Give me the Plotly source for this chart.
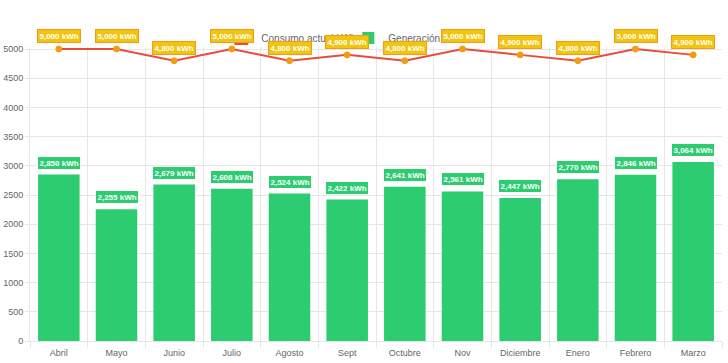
import plotly.graph_objects as go

months = ["Abril", "Mayo", "Junio", "Julio", "Agosto", "Sept", "Octubre",
          "Nov", "Diciembre", "Enero", "Febrero", "Marzo"]
consumo = [5000, 5000, 4800, 5000, 4800, 4900, 4800, 5000, 4900, 4800, 5000, 4900]
generacion = [2850, 2255, 2679, 2608, 2524, 2422, 2641, 2561, 2447, 2770, 2846, 3064]
y_ticks = [0, 500, 1000, 1500, 2000, 2500, 3000, 3500, 4000, 4500, 5000]

RED = "#e74c3c"
ORANGE = "#f39c12"
YELLOW = "#f1c40f"
GREEN = "#2ecc71"
GRID = "#e6e6e6"
FONT = "Liberation Sans, Arial, sans-serif"

fig = go.Figure()
# legend-only entry styled like a Chart.js legend box
fig.add_trace(go.Bar(
    x=[months[0]], y=[None], name="Consumo actual kWh",
    marker=dict(color=ORANGE, line=dict(color=RED, width=2)),
    hoverinfo="skip",
))
fig.add_trace(go.Bar(
    x=months, y=generacion, name="Generación de energía kWh", width=0.72,
    marker=dict(color=GREEN, line=dict(width=0)),
))
fig.add_trace(go.Scatter(
    x=months, y=consumo, name="Consumo actual kWh", mode="lines+markers",
    line=dict(color=RED, width=2),
    marker=dict(color=ORANGE, size=6, line=dict(color=ORANGE, width=1)),
    cliponaxis=False, showlegend=False,
))

annotations = []
for m, v in zip(months, generacion):
    annotations.append(dict(
        x=m, y=v, xref="x", yref="y", text=f"<b>{v:,} kWh</b>", showarrow=False,
        yshift=12, font=dict(family=FONT, size=8, color="white"),
        bgcolor=GREEN, bordercolor="white", borderwidth=1, borderpad=1.5,
    ))
for m, v in zip(months, consumo):
    annotations.append(dict(
        x=m, y=v, xref="x", yref="y", text=f"<b>{v:,} kWh</b>", showarrow=False,
        yshift=13, font=dict(family=FONT, size=8, color="white"),
        bgcolor=YELLOW, bordercolor=ORANGE, borderwidth=1, borderpad=1.5,
    ))

fig.update_layout(
    width=728, height=363,
    margin=dict(l=30, r=6, t=47, b=22, autoexpand=False),
    paper_bgcolor="white", plot_bgcolor="white",
    font=dict(family=FONT, size=9, color="#666"),
    barmode="overlay",
    showlegend=True,
    legend=dict(orientation="h", x=0.460, xanchor="center", y=1.031, yanchor="middle",
                font=dict(size=10, color="#666"), traceorder="normal",
                entrywidth=82, bgcolor="rgba(0,0,0,0)"),
    annotations=annotations,
)
fig.update_xaxes(
    type="category", range=[-0.5, 11.5], tickson="boundaries",
    showgrid=True, gridcolor=GRID,
    ticks="outside", ticklen=6, tickcolor=GRID, tickangle=0, automargin=False,
    ticklabelstandoff=3,
    showline=True, linecolor=GRID, tickfont=dict(size=9, color="#666"),
)
fig.update_yaxes(
    range=[0, 5035], tickvals=y_ticks, showgrid=True, gridcolor=GRID,
    ticks="outside", ticklen=4, tickcolor=GRID, automargin=False,
    showline=True, linecolor=GRID, zeroline=False,
    tickfont=dict(size=9, color="#666"),
)

fig.write_html("out.html", config={"displayModeBar": False},
               post_script="document.body.style.margin='0';document.body.style.overflow='hidden';")
